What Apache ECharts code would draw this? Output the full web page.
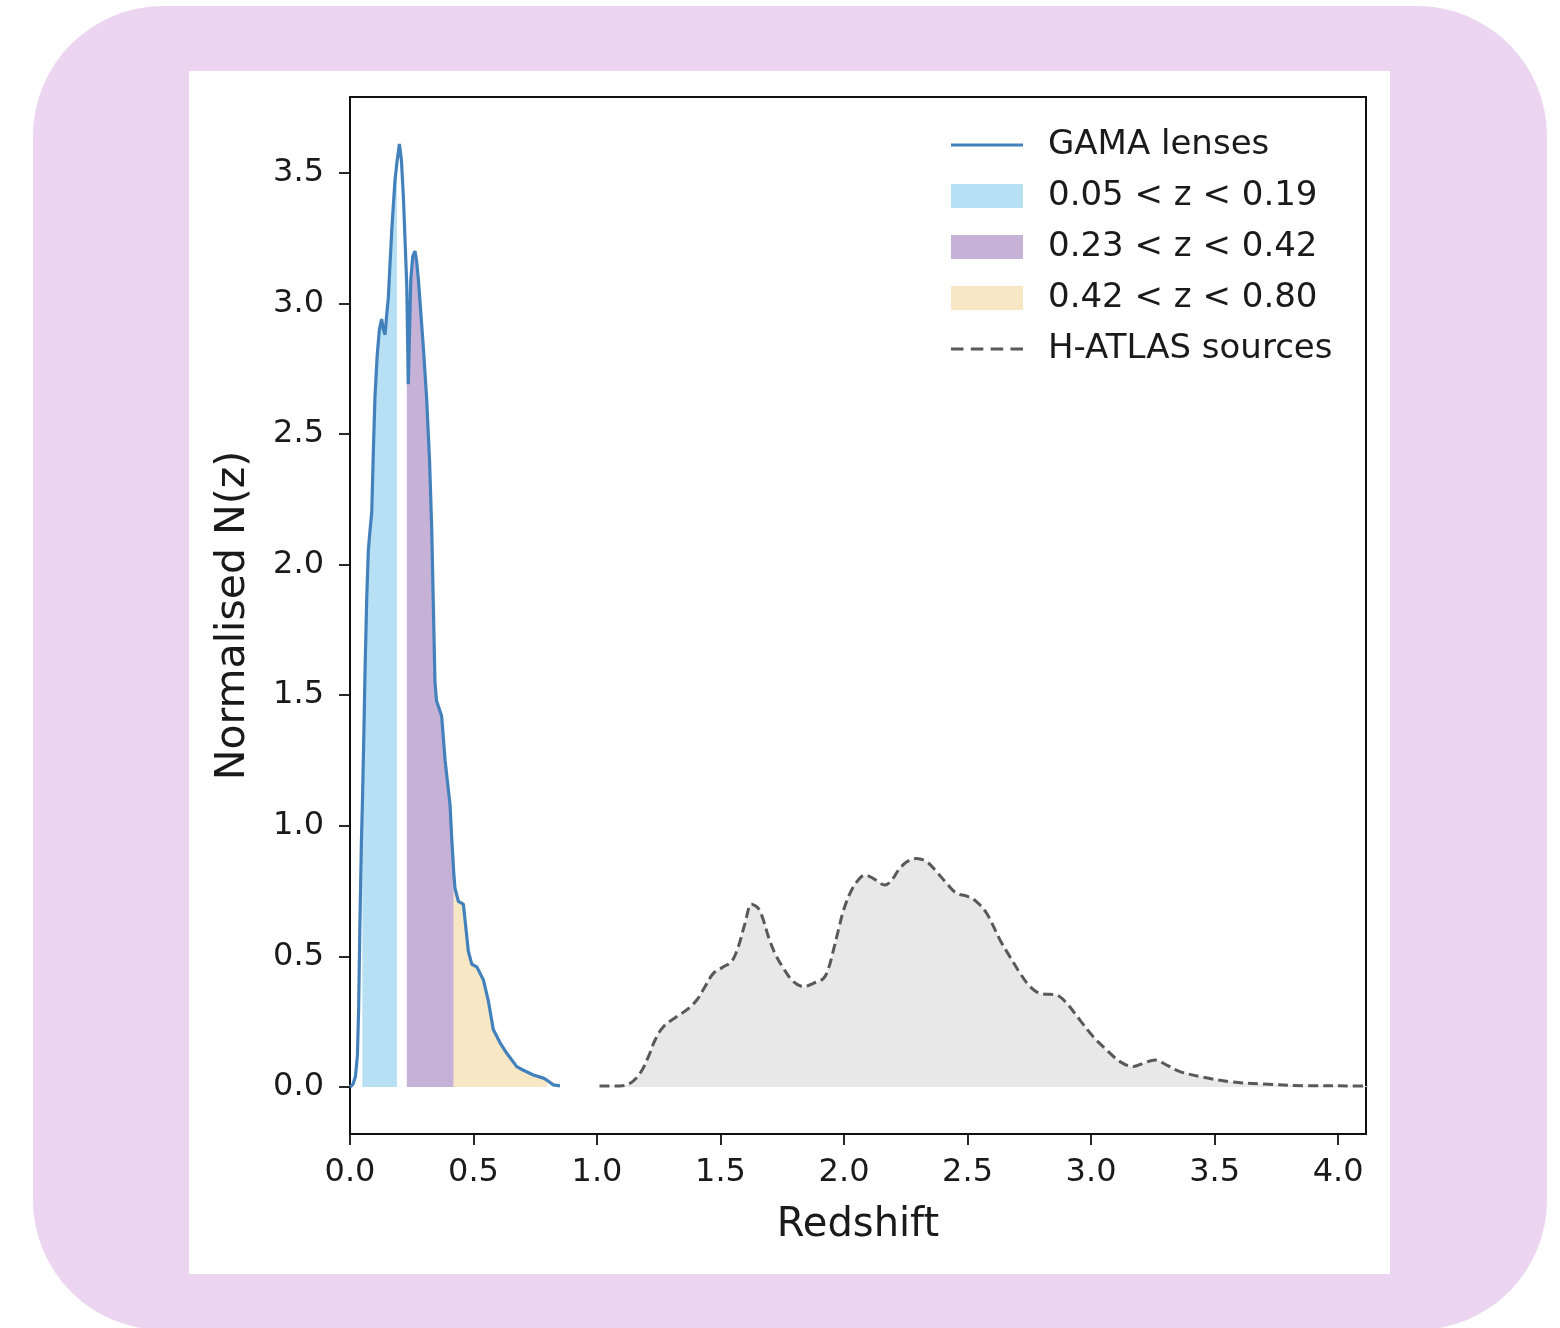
<!DOCTYPE html>
<html><head><meta charset="utf-8">
<script src="https://cdn.jsdelivr.net/npm/echarts@6/dist/echarts.min.js"></script>
<style>
html,body{margin:0;padding:0;background:#fff;width:1560px;height:1328px;overflow:hidden;}
#bg{position:absolute;left:33px;top:6px;width:1514px;height:1324px;border-radius:130px;background:#ecd5f0;}
#chart{position:absolute;left:189px;top:71px;width:1201px;height:1203px;background:#fff;}
</style></head><body><div id="bg"></div><div id="chart"></div>
<script>
// GAMA lenses N(z)
const gamaZ = [0.000,0.012,0.022,0.030,0.035,0.040,0.046,0.050,0.055,0.061,0.068,0.074,0.080,0.088,0.095,0.101,0.110,0.119,0.128,0.135,0.142,0.148,0.155,0.162,0.169,0.182,0.190,0.200,0.208,0.216,0.229,0.230,0.236,0.246,0.254,0.263,0.270,0.277,0.297,0.310,0.322,0.327,0.331,0.337,0.344,0.350,0.371,0.385,0.405,0.412,0.420,0.425,0.439,0.459,0.479,0.493,0.513,0.540,0.560,0.580,0.607,0.634,0.675,0.700,0.742,0.783,0.796,0.800,0.823,0.850];
const gamaN = [0.000,0.010,0.040,0.120,0.300,0.620,0.930,1.080,1.300,1.600,1.880,2.050,2.120,2.200,2.450,2.640,2.800,2.900,2.940,2.900,2.880,2.950,3.020,3.150,3.280,3.470,3.540,3.610,3.550,3.410,3.090,3.060,2.690,3.090,3.180,3.200,3.160,3.090,2.830,2.640,2.400,2.250,2.130,1.860,1.550,1.480,1.420,1.250,1.080,0.950,0.820,0.760,0.710,0.700,0.520,0.470,0.460,0.410,0.330,0.220,0.170,0.130,0.078,0.065,0.046,0.034,0.027,0.025,0.008,0.004];
// H-ATLAS sources N(z)
const atlasZ = [1.010,1.093,1.134,1.174,1.208,1.235,1.268,1.323,1.363,1.404,1.437,1.471,1.512,1.545,1.572,1.599,1.626,1.653,1.673,1.694,1.721,1.755,1.795,1.836,1.876,1.917,1.937,1.957,1.977,1.998,2.024,2.051,2.085,2.119,2.166,2.193,2.220,2.254,2.294,2.335,2.375,2.416,2.456,2.497,2.537,2.578,2.632,2.672,2.713,2.753,2.794,2.861,2.902,2.955,3.009,3.063,3.117,3.171,3.212,3.259,3.306,3.360,3.455,3.563,3.698,3.860,4.103,4.200];
const atlasN = [0.004,0.004,0.014,0.052,0.116,0.180,0.230,0.270,0.295,0.333,0.384,0.435,0.460,0.480,0.537,0.626,0.700,0.684,0.640,0.575,0.510,0.454,0.403,0.384,0.397,0.416,0.454,0.524,0.600,0.677,0.741,0.785,0.811,0.798,0.773,0.792,0.830,0.862,0.875,0.862,0.824,0.779,0.741,0.731,0.709,0.664,0.562,0.498,0.435,0.384,0.358,0.352,0.320,0.256,0.192,0.142,0.097,0.078,0.091,0.103,0.084,0.059,0.037,0.020,0.011,0.005,0.004,0.003];
// redshift bins
const bandNames = ['0.05 < z < 0.19','0.23 < z < 0.42','0.42 < z < 0.80'];
const bandLo = [0.05,0.23,0.42];
const bandHi = [0.19,0.42,0.80];
const xTicks = [0,0.5,1,1.5,2,2.5,3,3.5,4];
const yTicks = [0,0.5,1,1.5,2,2.5,3,3.5];

const bandColors = ['#b8e0f4','#c7b2d7','#f8e7c5'];
const FONT = 'DejaVu Sans';
const TXT = '#1a1a1a';
const LINE_ICON = 'path://M0,0h72v2.8h-72z';
const DASH_ICON = 'path://M0,0h12v2.8h-12zM19,0h12v2.8h-12zM38,0h12v2.8h-12zM57,0h12v2.8h-12z';

const gamaData = gamaZ.map((z,i)=>[z,gamaN[i]]);
const atlasData = atlasZ.map((z,i)=>[z,atlasN[i]]);

const series = [];
bandNames.forEach((name,k)=>{
  series.push({
    name, type:'line', color:bandColors[k], symbol:'none', z:1,
    data: gamaData.filter(p=>p[0]>=bandLo[k]-1e-9 && p[0]<=bandHi[k]+1e-9),
    lineStyle:{width:0, color:bandColors[k]},
    areaStyle:{color:bandColors[k], opacity:1},
    itemStyle:{color:bandColors[k]}
  });
});
series.unshift({
  name:'GAMA lenses', type:'line', color:'#4281bc', symbol:'none', z:4,
  data:gamaData, lineStyle:{width:3.2, color:'#4281bc'}, itemStyle:{color:'#4281bc'}
});
series.push({
  name:'H-ATLAS sources', type:'line', color:'#595959', symbol:'none', z:3, smooth:0.35,
  data:atlasData, lineStyle:{width:3, color:'#595959', type:[10,5]},
  itemStyle:{color:'#595959'},
  areaStyle:{color:'#e8e8e8', opacity:1}
});

const chart = echarts.init(document.getElementById('chart'), null, {renderer:'canvas'});
chart.setOption({
  animation:false,
  backgroundColor:'#fff',
  textStyle:{fontFamily:FONT},
  grid:{left:161, top:26, width:1016, height:1037, show:true, borderColor:'#111', borderWidth:2, backgroundColor:'transparent'},
  legend:{
    orient:'vertical', left:757, top:51, itemWidth:72, itemHeight:24, itemGap:15,
    textStyle:{fontFamily:FONT, fontSize:34, color:TXT, lineHeight:36, padding:[0,0,0,20]},
    data:[
      {name:'GAMA lenses', icon:LINE_ICON},
      {name:bandNames[0], icon:'rect'},
      {name:bandNames[1], icon:'rect'},
      {name:bandNames[2], icon:'rect'},
      {name:'H-ATLAS sources', icon:DASH_ICON}
    ]
  },
  xAxis:{
    type:'value', min:0, max:4.113,
    name:'Redshift', nameLocation:'middle', nameGap:72,
    nameTextStyle:{fontFamily:FONT, fontSize:40, color:TXT},
    axisLine:{show:true, onZero:false, lineStyle:{color:'#111', width:2}},
    axisTick:{show:true, inside:false, length:11, lineStyle:{color:'#111', width:1.8}, customValues:xTicks},
    axisLabel:{fontFamily:FONT, fontSize:32, color:TXT, margin:23, customValues:xTicks, formatter:v=>v.toFixed(1)},
    splitLine:{show:false}
  },
  yAxis:{
    type:'value', min:-0.18, max:3.79,
    name:'Normalised N(z)', nameLocation:'middle', nameGap:96,
    nameTextStyle:{fontFamily:FONT, fontSize:41, color:TXT},
    axisLine:{show:true, onZero:false, lineStyle:{color:'#111', width:2}},
    axisTick:{show:true, inside:false, length:11, lineStyle:{color:'#111', width:1.8}, customValues:yTicks},
    axisLabel:{fontFamily:FONT, fontSize:32, color:TXT, margin:26, customValues:yTicks, formatter:v=>v.toFixed(1)},
    splitLine:{show:false}
  },
  series
});
</script></body></html>
